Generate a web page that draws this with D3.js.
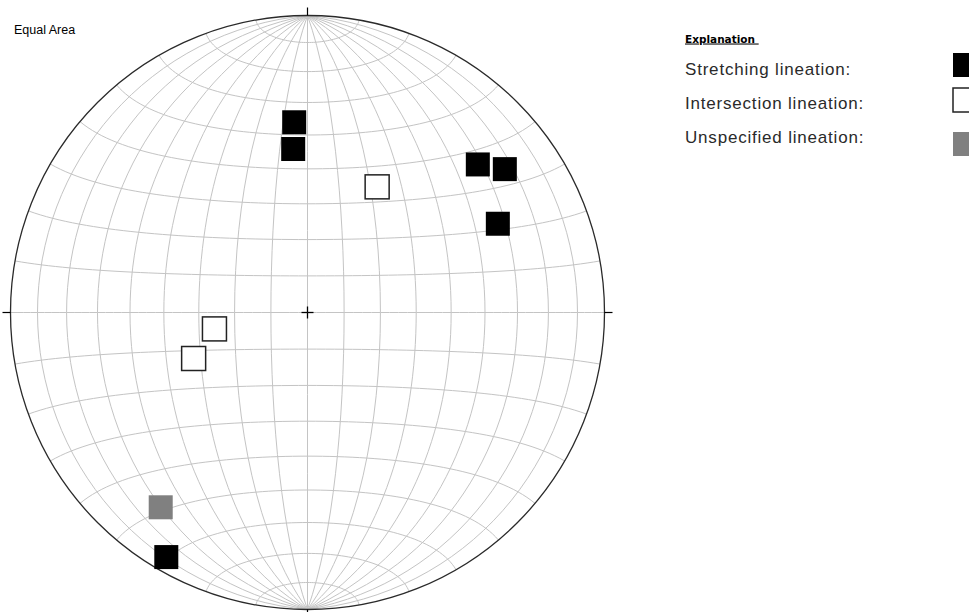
<!DOCTYPE html>
<html>
<head>
<meta charset="utf-8">
<script src="https://cdn.jsdelivr.net/npm/d3@7"></script>
<style>
  html, body { margin: 0; padding: 0; background: #fff; }
  svg { display: block; }
</style>
</head>
<body>
<svg id="chart" width="969" height="612"></svg>
<script>
// Lineation measurements (trend / plunge in degrees, lower hemisphere)
const trends  = [356, 355, 29, 49, 54, 65, 260, 248, 217, 210];
const plunges = [36, 44, 50, 25, 19, 30, 64, 56, 19, 5.5];
const kinds   = ["stretching", "stretching", "intersection", "stretching", "stretching",
                 "stretching", "intersection", "intersection", "unspecified", "stretching"];

const legendLabels = ["Stretching lineation:", "Intersection lineation:", "Unspecified lineation:"];
const legendKinds  = ["stretching", "intersection", "unspecified"];

const fillOf   = { stretching: "#000000", intersection: "#ffffff", unspecified: "#808080" };
const strokeOf = { stretching: "none", intersection: "#222222", unspecified: "none" };

const svg = d3.select("#chart");
const cx = 307.5, cy = 312.5, R = 297;

// Schmidt (equal-area) net, equatorial aspect: poles at N and S
const proj = d3.geoAzimuthalEqualArea()
  .rotate([0, 0])
  .clipAngle(90)
  .scale(R / Math.SQRT2)
  .translate([cx, cy])
  .precision(0.1);
const path = d3.geoPath(proj);

const eps = 1e-6;
const grat = d3.geoGraticule()
  .extentMajor([[-180, -90 + eps], [180, 90 - eps]])
  .extentMinor([[-180, -90 + eps], [180, 90 - eps]])
  .step([10, 10]);

svg.append("path")
  .datum(grat())
  .attr("d", path)
  .attr("fill", "none")
  .attr("stroke", "#c4c4c4")
  .attr("stroke-width", 1);

// Primitive circle
svg.append("circle")
  .attr("cx", cx).attr("cy", cy).attr("r", R)
  .attr("fill", "none")
  .attr("stroke", "#2a2a2a")
  .attr("stroke-width", 1.3);

// Cardinal ticks and centre cross
const ticks = [[0, -1], [0, 1], [-1, 0], [1, 0]];
svg.append("g").selectAll("line").data(ticks).join("line")
  .attr("x1", d => cx + d[0] * R).attr("y1", d => cy + d[1] * R)
  .attr("x2", d => cx + d[0] * (R + 8)).attr("y2", d => cy + d[1] * (R + 8))
  .attr("stroke", "#000").attr("stroke-width", 1.2);
svg.append("g").selectAll("line").data(ticks).join("line")
  .attr("x1", cx).attr("y1", cy)
  .attr("x2", d => cx + d[0] * 6).attr("y2", d => cy + d[1] * 6)
  .attr("stroke", "#000").attr("stroke-width", 1.3);

// Trend/plunge -> lon/lat in the net's frame (centre = vertical, top = north)
const rad = Math.PI / 180;
function toLonLat(t, p) {
  const n = Math.cos(p * rad) * Math.cos(t * rad);
  const e = Math.cos(p * rad) * Math.sin(t * rad);
  const d = Math.sin(p * rad);
  return [Math.atan2(e, d) / rad, Math.asin(n) / rad];
}

const pts = trends.map((t, i) => ({ t, p: plunges[i], kind: kinds[i] }));
const size = 24;
svg.append("g").selectAll("rect").data(pts).join("rect")
  .each(function(d) {
    const xy = proj(toLonLat(d.t, d.p));
    d3.select(this)
      .attr("x", xy[0] - size / 2).attr("y", xy[1] - size / 2)
      .attr("width", size).attr("height", size);
  })
  .attr("fill", d => fillOf[d.kind])
  .attr("stroke", d => strokeOf[d.kind])
  .attr("stroke-width", 1.5);

// Title
svg.append("text")
  .attr("x", 14).attr("y", 34)
  .attr("font-family", "Liberation Sans, Arial, sans-serif")
  .attr("font-size", 12.5)
  .attr("fill", "#000")
  .text("Equal Area");

// Legend
const lg = svg.append("g");
lg.append("text")
  .attr("x", 685).attr("y", 42.5)
  .attr("font-family", "DejaVu Sans, Verdana, sans-serif")
  .attr("font-size", 10.5)
  .attr("font-weight", "bold")
  .attr("text-decoration", "underline")
  .attr("fill", "#000")
  .style("white-space", "pre")
  .text("Explanation ");

const rowBase = [75, 109, 143];
lg.selectAll("text.lab").data(legendLabels).join("text")
  .attr("class", "lab")
  .attr("x", 685).attr("y", (d, i) => rowBase[i])
  .attr("font-family", "Liberation Sans, Arial, sans-serif")
  .attr("font-size", 17)
  .attr("letter-spacing", 0.8)
  .attr("fill", "#2a2a2a")
  .text(d => d);

const boxTop = [53, 88, 132];
lg.selectAll("rect").data(legendKinds).join("rect")
  .attr("x", 953).attr("y", (d, i) => boxTop[i])
  .attr("width", 24).attr("height", 24)
  .attr("fill", d => fillOf[d])
  .attr("stroke", d => strokeOf[d])
  .attr("stroke-width", 1.5);
</script>
</body>
</html>
